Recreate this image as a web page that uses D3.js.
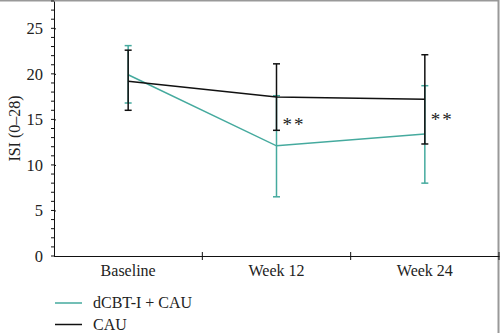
<!DOCTYPE html>
<html>
<head>
<meta charset="utf-8">
<script src="https://cdn.jsdelivr.net/npm/d3@7"></script>
<style>
body { margin: 0; background: #fff; }
text { font-family: "Liberation Serif", "DejaVu Serif", serif; fill: #222; }
.axis path, .axis line { stroke: #111; }
</style>
</head>
<body>
<script>

var categories = ["Baseline", "Week 12", "Week 24"];

// mean, lower, upper (ISI score)
var cbtMean = [19.9, 12.1, 13.4],
    cbtLow  = [16.8, 6.5, 8.0],
    cbtHigh = [23.1, 17.6, 18.7];

var cauMean = [19.2, 17.45, 17.2],
    cauLow  = [16.0, 13.8, 12.3],
    cauHigh = [22.6, 21.1, 22.1];

var stars = ["", "**", "**"];
var yTicks = [0, 5, 10, 15, 20, 25];

var W = 500, H = 333,
    mLeft = 54, mTop = 1, mRight = 499, mBottom = 256;

var teal = "#45aa9e";

var svg = d3.select("body").append("svg")
    .attr("width", W)
    .attr("height", H);

var x = d3.scaleBand().domain(categories).range([mLeft, mRight]);
var y = d3.scaleLinear().domain([0, 28]).range([mBottom, mTop]);

// frame (top and right)
svg.append("path")
    .attr("d", "M0,0.5H" + (W - 1.5) + "V" + H)
    .attr("fill", "none")
    .attr("stroke", "#999")
    .attr("stroke-width", 2);

// minor ticks
svg.append("g")
    .selectAll("line")
    .data(d3.range(0, 29))
    .enter().append("line")
    .attr("x1", mLeft - 3)
    .attr("x2", mLeft)
    .attr("y1", function(d) { return y(d); })
    .attr("y2", function(d) { return y(d); })
    .attr("stroke", "#111");

var yAxis = svg.append("g")
    .attr("class", "axis")
    .attr("transform", "translate(" + mLeft + ",0)")
    .call(d3.axisLeft(y).tickValues(yTicks).tickSize(6).tickPadding(5).tickSizeOuter(0));
yAxis.selectAll("text").style("font-size", "16.5px");
yAxis.selectAll(".tick line").attr("x2", 2);

var xAxis = svg.append("g")
    .attr("class", "axis")
    .attr("transform", "translate(0," + mBottom + ")")
    .call(d3.axisBottom(x).tickSize(0).tickPadding(9).tickSizeOuter(0));
xAxis.selectAll("text").style("font-size", "16px");

// ticks at band boundaries
svg.append("g")
    .selectAll("line")
    .data(categories.slice(1).concat(["end"]))
    .enter().append("line")
    .attr("x1", function(d) { return d === "end" ? mRight : x(d); })
    .attr("x2", function(d) { return d === "end" ? mRight : x(d); })
    .attr("y1", mBottom - 4)
    .attr("y2", mBottom + 4)
    .attr("stroke", "#111");

svg.append("text")
    .attr("transform", "translate(20," + ((mTop + mBottom) / 2) + ") rotate(-90)")
    .attr("text-anchor", "middle")
    .style("font-size", "16px")
    .text("ISI (0–28)");

function cx(i) { return x(categories[i]) + x.bandwidth() / 2; }

function drawSeries(mean, low, high, color) {
  var g = svg.append("g");
  g.append("path")
      .attr("fill", "none")
      .attr("stroke", color)
      .attr("stroke-width", 1.5)
      .attr("d", d3.line().x(function(d, i) { return cx(i); }).y(function(d) { return y(d); })(mean));
  var bars = g.selectAll("g.err")
      .data(mean)
      .enter().append("g");
  bars.append("line")
      .attr("x1", function(d, i) { return cx(i); })
      .attr("x2", function(d, i) { return cx(i); })
      .attr("y1", function(d, i) { return y(low[i]); })
      .attr("y2", function(d, i) { return y(high[i]); })
      .attr("stroke", color)
      .attr("stroke-width", 1.5);
  [low, high].forEach(function(arr) {
    bars.append("line")
        .attr("x1", function(d, i) { return cx(i) - 3.5; })
        .attr("x2", function(d, i) { return cx(i) + 3.5; })
        .attr("y1", function(d, i) { return y(arr[i]); })
        .attr("y2", function(d, i) { return y(arr[i]); })
        .attr("stroke", color)
        .attr("stroke-width", 1.5);
  });
}

drawSeries(cbtMean, cbtLow, cbtHigh, teal);
drawSeries(cauMean, cauLow, cauHigh, "#111");

svg.append("g")
    .selectAll("text")
    .data(stars)
    .enter().append("text")
    .attr("x", function(d, i) { return cx(i) + 6; })
    .attr("y", function(d, i) { return y((cauMean[i] + cbtMean[i]) / 2); })
    .attr("dy", "0.5em")
    .style("font-size", "19px")
    .style("letter-spacing", "2px")
    .text(function(d) { return d; });

// legend
var legend = svg.append("g")
    .selectAll("g")
    .data([["dCBT-I + CAU", teal], ["CAU", "#111"]])
    .enter().append("g")
    .attr("transform", function(d, i) { return "translate(55," + (303 + i * 21.5) + ")"; });
legend.append("line")
    .attr("x1", 0).attr("x2", 27)
    .attr("stroke", function(d) { return d[1]; })
    .attr("stroke-width", 1.5);
legend.append("text")
    .attr("x", 38)
    .attr("dy", "0.33em")
    .style("font-size", "16px")
    .text(function(d) { return d[0]; });

</script>
</body>
</html>
